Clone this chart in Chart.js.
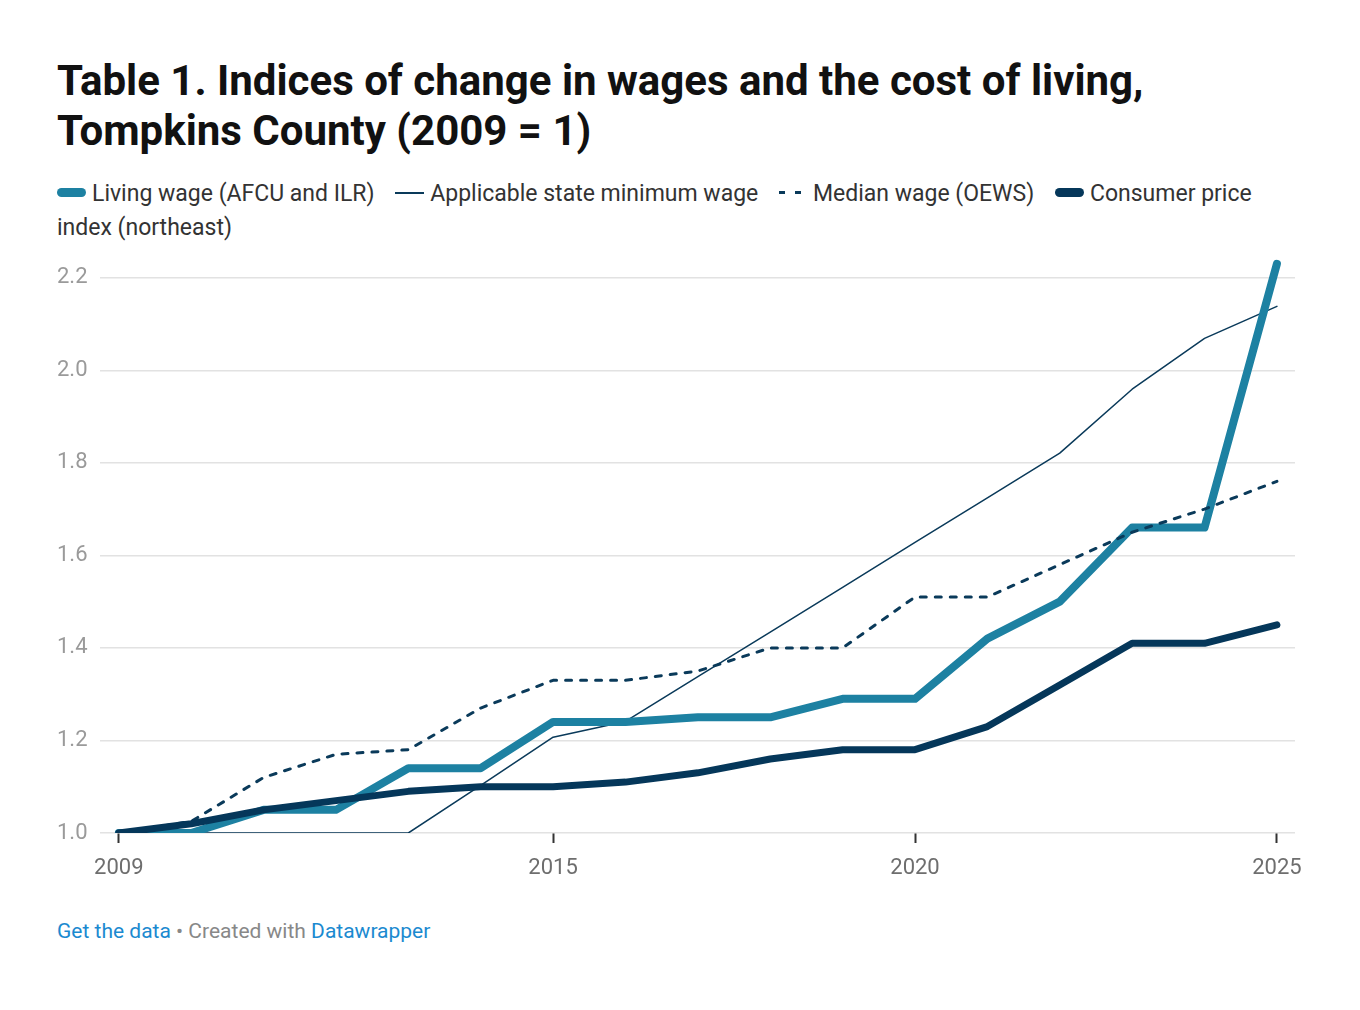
<!DOCTYPE html>
<html>
<head>
<meta charset="utf-8">
<script src="https://cdn.jsdelivr.net/npm/chart.js@4"></script>
<style>
  body { margin: 0; background: #fff; font-family: Roboto, sans-serif; }
  .title { position: absolute; left: 57px; top: 56px; font-size: 42px; font-weight: 700; line-height: 50px; color: #111; }
  .legend { position: absolute; left: 57px; top: 177px; width: 1240px; font-size: 23px; line-height: 34px; color: #333; }
  .legend span.item { white-space: nowrap; margin-right: 15px; }
  .sw { display: inline-block; width: 29px; vertical-align: middle; margin-right: 6px; position: relative; top: -2px; }
  .sw.thick { height: 9px; border-radius: 5px; }
  .sw.thin { height: 1.5px; background: #0a3a5a; }
  .sw.dash { height: 3px; width: 27px; background: repeating-linear-gradient(90deg, #0a3a5a 0 6px, transparent 6px 16px); margin-right: 7px; }
  .chartbox { position: absolute; left: 57px; top: 234px; width: 1262px; height: 667px; }
  .footer { position: absolute; left: 57px; top: 919px; font-size: 21px; color: #888; }
  .footer a { color: #1b8ad0; text-decoration: none; }
</style>
</head>
<body>
<div class="title">Table 1. Indices of change in wages and the cost of living,<br>Tompkins County (2009 = 1)</div>
<div class="legend">
  <span class="item"><span class="sw thick" style="background:#1d81a2"></span>Living wage (AFCU and ILR)</span>
  <span class="item"><span class="sw thin"></span>Applicable state minimum wage</span>
  <span class="item"><span class="sw dash"></span>Median wage (OEWS)</span>
  <span><span class="sw thick" style="background:#05375a"></span>Consumer price index (northeast)</span>
</div>
<div class="chartbox"><canvas id="chart"></canvas></div>
<div class="footer"><a>Get the data</a> • Created with <a>Datawrapper</a></div>
<script>
const years = [2009, 2010, 2011, 2012, 2013, 2014, 2015, 2016, 2017, 2018, 2019, 2020, 2021, 2022, 2023, 2024, 2025];
const livingWage = [1.0, 1.0, 1.05, 1.05, 1.14, 1.14, 1.24, 1.24, 1.25, 1.25, 1.29, 1.29, 1.42, 1.50, 1.66, 1.66, 2.23];
const minimumWage = [1.0, 1.0, 1.0, 1.0, 1.0, 1.103, 1.207, 1.241, 1.338, 1.434, 1.531, 1.628, 1.724, 1.821, 1.959, 2.069, 2.138];
const medianWage = [1.0, 1.025, 1.12, 1.17, 1.18, 1.27, 1.33, 1.33, 1.35, 1.40, 1.40, 1.51, 1.51, 1.58, 1.65, 1.70, 1.76];
const cpi = [1.0, 1.02, 1.05, 1.07, 1.09, 1.10, 1.10, 1.11, 1.13, 1.16, 1.18, 1.18, 1.23, 1.32, 1.41, 1.41, 1.45];
const xTicks = [2009, 2015, 2020, 2025];
const yTicks = [1.0, 1.2, 1.4, 1.6, 1.8, 2.0, 2.2];

const toPoints = arr => arr.map((v, i) => ({ x: years[i], y: v }));

const ctx = document.getElementById('chart');
new Chart(ctx, {
    type: 'line',
    data: {
        datasets: [
            {
                label: 'Consumer price index (northeast)',
                data: toPoints(cpi),
                borderColor: '#05375a',
                borderWidth: 7,
                order: 0
            },
            {
                label: 'Median wage (OEWS)',
                data: toPoints(medianWage),
                borderColor: '#0a3a5a',
                borderWidth: 3,
                borderDash: [6, 9],
                borderCapStyle: 'round',
                order: 1
            },
            {
                label: 'Living wage (AFCU and ILR)',
                data: toPoints(livingWage),
                borderColor: '#1d81a2',
                borderWidth: 8,
                order: 2
            },
            {
                label: 'Applicable state minimum wage',
                data: toPoints(minimumWage),
                borderColor: '#0a3a5a',
                borderWidth: 1.5,
                order: 3
            }
        ]
    },
    options: {
        responsive: true,
        maintainAspectRatio: false,
        animation: false,
        elements: {
            point: { radius: 0 },
            line: { tension: 0, borderJoinStyle: 'round', borderCapStyle: 'round' }
        },
        layout: { padding: { top: 0, right: 24, bottom: 0, left: 0 } },
        plugins: {
            legend: { display: false },
            tooltip: { enabled: false }
        },
        scales: {
            x: {
                type: 'linear',
                min: 2008.74,
                max: 2025.25,
                afterBuildTicks: scale => { scale.ticks = xTicks.map(v => ({ value: v })); },
                afterFit: scale => { scale.height = 68; },
                border: { display: false },
                grid: {
                    drawOnChartArea: false,
                    drawTicks: true,
                    tickLength: 10,
                    tickColor: '#333',
                    tickWidth: 2
                },
                ticks: {
                    padding: 12,
                    maxRotation: 0,
                    color: '#6e6e6e',
                    font: { family: 'Roboto', size: 22 },
                    callback: v => String(v)
                }
            },
            y: {
                min: 1.0,
                max: 2.24,
                afterBuildTicks: scale => { scale.ticks = yTicks.map(v => ({ value: v })); },
                afterFit: scale => { scale.width = 43; },
                border: { display: false },
                grid: {
                    color: '#e2e2e2',
                    lineWidth: 1.5,
                    drawTicks: false
                },
                ticks: {
                    crossAlign: 'far',
                    padding: 12,
                    color: '#9a9a9a',
                    font: { family: 'Roboto', size: 22 },
                    callback: v => v.toFixed(1)
                }
            }
        }
    }
});
</script>
</body>
</html>
